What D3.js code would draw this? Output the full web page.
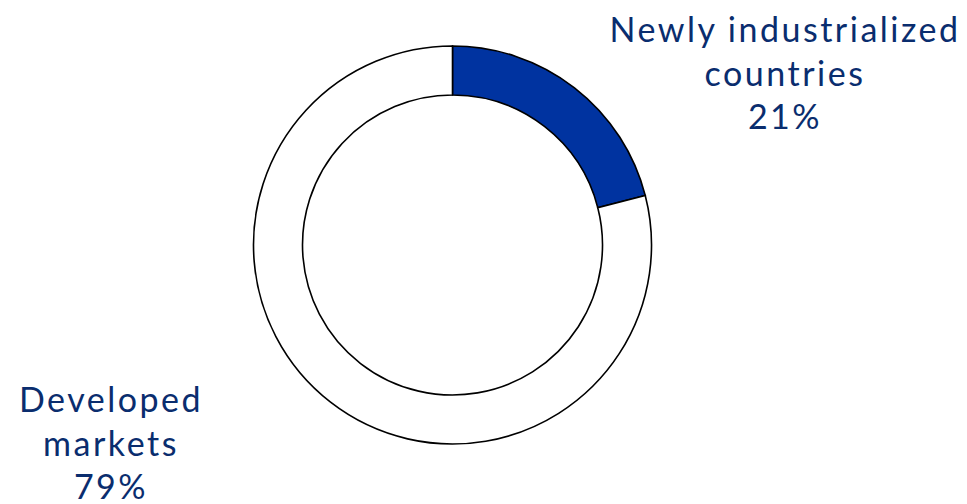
<!DOCTYPE html>
<html>
<head>
<meta charset="utf-8">
<script src="https://cdn.jsdelivr.net/npm/d3@7"></script>
<style>
  body { margin: 0; background: #fff; }
  svg { display: block; }
</style>
</head>
<body>
<svg id="canvas" width="967" height="504"></svg>
<script>
const categories = ['Newly industrialized countries', 'Developed markets']
const shares = [21, 79]
const labelLines = [['Newly industrialized', 'countries', '21%'], ['Developed', 'markets', '79%']]
const colors = ['#0033a0', '#ffffff']

const svg = d3.select('#canvas')
const cx = 452.5, cy = 245
const outerR = 199, innerR = 150

const data = categories.map((c, i) => ({ name: c, value: shares[i], lines: labelLines[i], color: colors[i] }))

const pie = d3.pie().sort(null).value(d => d.value)
const arc = d3.arc().innerRadius(innerR).outerRadius(outerR)

const g = svg.append('g').attr('transform', `translate(${cx},${cy})`)
g.selectAll('path')
    .data(pie(data))
    .enter()
    .append('path')
    .attr('d', arc)
    .attr('fill', d => d.data.color)
    .attr('stroke', '#000')
    .attr('stroke-width', 1.6)

// label positions
const labelPos = [[785, 42], [111, 412]]
const lineH = 43.5

data.forEach((d, i) => {
    const t = svg.append('text')
        .attr('text-anchor', 'middle')
        .attr('fill', '#0a2d6e')
        .style('font-family', 'Lato, "Noto Sans", sans-serif')
        .style('font-size', '34px')
        .style('letter-spacing', '2.5px')
    d.lines.forEach((l, j) => {
        t.append('tspan')
            .attr('x', labelPos[i][0])
            .attr('y', labelPos[i][1] + j * lineH)
            .text(l)
    })
})
</script>
</body>
</html>
